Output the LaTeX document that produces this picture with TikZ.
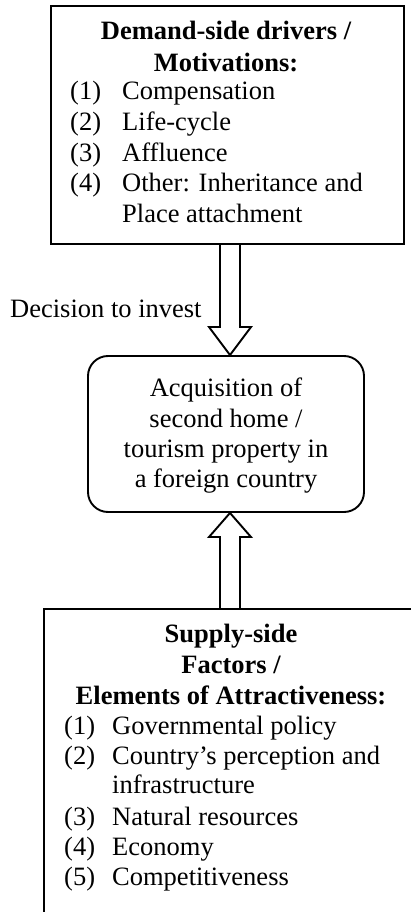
\documentclass[tikz,border=0pt]{standalone}
\usepackage{fontspec}
\setmainfont{Liberation Serif}
\usetikzlibrary{calc}
\begin{document}
\begin{tikzpicture}[x=1pt,y=-1pt,
  box/.style={draw,line width=1.9pt,inner sep=0pt},
  txt/.style={anchor=base west,inner sep=0pt,font=\fontsize{26.5}{30}\selectfont},
  ctr/.style={anchor=base,inner sep=0pt,font=\fontsize{26.5}{30}\selectfont},
  ttl/.style={anchor=base,inner sep=0pt,font=\fontsize{26.5}{30}\selectfont\bfseries},
  blk/.style={draw,line width=1.9pt,line join=miter}]
\useasboundingbox (0,0) rectangle (411,912);
\clip (0,0) rectangle (411,912);
% boxes
\node[box,minimum width=353pt,minimum height=238pt,anchor=north west] (dem) at (50,5) {};
\node[box,rounded corners=20pt,minimum width=276pt,minimum height=156pt] (acq) at (226,434) {};
\node[box,minimum width=377pt,minimum height=330pt,anchor=north west] (sup) at (43,608) {};
% arrows
\draw[blk] (220,0 |- dem.south) -- (220,327) -- (209,327) -- (230,0 |- acq.north) -- (251,327) -- (240,327) -- (240,0 |- dem.south);
\draw[blk] (220,0 |- sup.north) -- (220,537) -- (209,537) -- (230,0 |- acq.south) -- (251,537) -- (240,537) -- (240,0 |- sup.north);
% top text
\node[ttl] (d1) at (226,40) {Demand-side drivers /};
\node[ttl] (d2) at (226,72) {Motivations:};
\node[txt] (dn1) at (70,100) {(1)}; \node[txt] (dt1) at (122,100) {Compensation};
\node[txt] (dn2) at (70,131) {(2)}; \node[txt] (dt2) at (122,131) {Life-cycle};
\node[txt] (dn3) at (70,162) {(3)}; \node[txt] (dt3) at (122,162) {Affluence};
\node[txt] (dn4) at (70,192) {(4)}; \node[txt] (dt4) at (122,192) {Other: Inheritance and};
\node[txt] (dt5) at (122,222) {Place attachment};
% label
\node[txt] (dec) at (10,317) {Decision to invest};
% middle text
\node[ctr] (a1) at (226,396) {Acquisition of};
\node[ctr] (a2) at (226,427) {second home /};
\node[ctr] (a3) at (226,457) {tourism property in};
\node[ctr] (a4) at (226,487) {a foreign country};
% bottom text
\node[ttl] (s1) at (231,642) {Supply-side};
\node[ttl] (s2) at (231,673) {Factors /};
\node[ttl] (s3) at (231,704) {Elements of Attractiveness:};
\node[txt] (sn1) at (64,734) {(1)}; \node[txt] (st1) at (112,734) {Governmental policy};
\node[txt] (sn2) at (64,764) {(2)}; \node[txt] (st2) at (112,764) {Country’s perception and};
\node[txt] (st2b) at (112,793) {infrastructure};
\node[txt] (sn3) at (64,825) {(3)}; \node[txt] (st3) at (112,825) {Natural resources};
\node[txt] (sn4) at (64,855) {(4)}; \node[txt] (st4) at (112,855) {Economy};
\node[txt] (sn5) at (64,885) {(5)}; \node[txt] (st5) at (112,885) {Competitiveness};
\end{tikzpicture}
\end{document}
